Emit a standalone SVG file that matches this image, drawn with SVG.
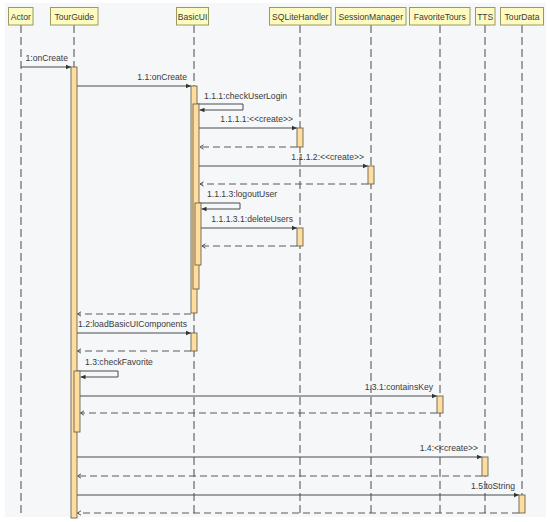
<svg xmlns="http://www.w3.org/2000/svg" width="550" height="522" viewBox="0 0 550 522">
<defs>
<style>
text{font-family:"Liberation Sans",Arial,sans-serif;font-size:8.6px;fill:#3a3a3a}
.hdr{fill:#fdfbc2;stroke:#9a9a5e;stroke-width:1}
.ll{stroke:#5c5c5c;stroke-width:1.1;stroke-dasharray:8,4;fill:none}
.act{fill:#fedd9e;stroke:#6e6450;stroke-width:0.9}
.msg{stroke:#4a4a4a;stroke-width:1;fill:none;marker-end:url(#fill)}
.ret{stroke:#5a5a5a;stroke-width:1;stroke-dasharray:7,4;fill:none;marker-end:url(#open)}
</style>
<marker id="fill" markerWidth="6" markerHeight="6" refX="5" refY="3" orient="auto" markerUnits="userSpaceOnUse">
<path d="M0,0.8 L5,3 L0,5.2 Z" fill="#333"/>
</marker>
<marker id="open" markerWidth="6" markerHeight="6" refX="4" refY="3" orient="auto" markerUnits="userSpaceOnUse">
<path d="M0.5,0.8 L4,3 L0.5,5.2" fill="none" stroke="#444" stroke-width="0.9"/>
</marker>
</defs>
<rect x="5" y="3" width="541" height="514" fill="#f5f7f9"/>

<g id="lifelines">
<line class="ll" x1="21" y1="25" x2="21" y2="517"/>
<line class="ll" x1="74" y1="25" x2="74" y2="517"/>
<line class="ll" x1="194" y1="25" x2="194" y2="517"/>
<line class="ll" x1="300" y1="25" x2="300" y2="517"/>
<line class="ll" x1="371" y1="25" x2="371" y2="517"/>
<line class="ll" x1="440" y1="25" x2="440" y2="517"/>
<line class="ll" x1="485" y1="25" x2="485" y2="517"/>
<line class="ll" x1="522" y1="25" x2="522" y2="517"/>
</g>

<g id="connectors">
<line class="msg" x1="21" y1="67" x2="71" y2="67"/>
<line class="msg" x1="77" y1="86" x2="191" y2="86"/>
<polyline class="msg" points="197,104 243,104 243,110 199.5,110"/>
<line class="msg" x1="199" y1="128" x2="297" y2="128"/>
<line class="ret" x1="297" y1="147" x2="200" y2="147"/>
<line class="msg" x1="199" y1="166" x2="368" y2="166"/>
<line class="ret" x1="368" y1="184" x2="200" y2="184"/>
<polyline class="msg" points="199,203 240,203 240,209 201.5,209"/>
<line class="msg" x1="201" y1="228" x2="297" y2="228"/>
<line class="ret" x1="297" y1="246" x2="202" y2="246"/>
<line class="ret" x1="191" y1="314" x2="77.5" y2="314"/>
<line class="msg" x1="77" y1="333" x2="191" y2="333"/>
<line class="ret" x1="191" y1="351" x2="77.5" y2="351"/>
<polyline class="msg" points="77,371 118,371 118,377 80.5,377"/>
<line class="msg" x1="80" y1="396" x2="437" y2="396"/>
<line class="ret" x1="437" y1="413" x2="80.5" y2="413"/>
<line class="msg" x1="77" y1="457" x2="482" y2="457"/>
<line class="ret" x1="482" y1="476" x2="77.5" y2="476"/>
<line class="msg" x1="77" y1="495" x2="519" y2="495"/>
<line class="ret" x1="519" y1="513" x2="77.5" y2="513"/>
</g>

<g id="labels">
<text x="68" y="61" text-anchor="end">1:onCreate</text>
<text x="187" y="80" text-anchor="end">1.1:onCreate</text>
<text x="204" y="99">1.1.1:checkUserLogin</text>
<text x="293" y="122" text-anchor="end">1.1.1.1:&lt;&lt;create&gt;&gt;</text>
<text x="364" y="160" text-anchor="end">1.1.1.2:&lt;&lt;create&gt;&gt;</text>
<text x="207" y="197">1.1.1.3:logoutUser</text>
<text x="293" y="222" text-anchor="end">1.1.1.3.1:deleteUsers</text>
<text x="187" y="327" text-anchor="end">1.2:loadBasicUIComponents</text>
<text x="85" y="365">1.3:checkFavorite</text>
<text x="433" y="390" text-anchor="end">1.3.1:containsKey</text>
<text x="478" y="451" text-anchor="end">1.4:&lt;&lt;create&gt;&gt;</text>
<text x="515" y="489" text-anchor="end">1.5:toString</text>
</g>

<g id="Actor">
<rect class="hdr" x="8.5" y="7.5" width="24.5" height="17.5"/>
<text x="20.75" y="19.5" text-anchor="middle">Actor</text>
</g>
<g id="TourGuide">
<rect class="hdr" x="50.5" y="7.5" width="47.5" height="17.5"/>
<text x="74.25" y="19.5" text-anchor="middle">TourGuide</text>
<rect class="act" x="71" y="67" width="6" height="451"/>
<rect class="act" x="74" y="371" width="6" height="61"/>
</g>
<g id="BasicUI">
<rect class="hdr" x="176.5" y="7.5" width="32" height="17.5"/>
<text x="192.5" y="19.5" text-anchor="middle">BasicUI</text>
<rect class="act" x="191" y="86" width="6" height="227"/>
<rect class="act" x="193" y="104" width="6" height="185"/>
<rect class="act" x="195" y="203" width="6" height="62"/>
<rect class="act" x="191" y="333" width="6" height="18"/>
</g>
<g id="SQLiteHandler">
<rect class="hdr" x="269.5" y="7.5" width="61.5" height="17.5"/>
<text x="300.25" y="19.5" text-anchor="middle">SQLiteHandler</text>
<rect class="act" x="297" y="128" width="6" height="19"/>
<rect class="act" x="297" y="228" width="6" height="18"/>
</g>
<g id="SessionManager">
<rect class="hdr" x="335.5" y="7.5" width="70.5" height="17.5"/>
<text x="370.75" y="19.5" text-anchor="middle">SessionManager</text>
<rect class="act" x="368" y="166" width="6" height="18"/>
</g>
<g id="FavoriteTours">
<rect class="hdr" x="409.5" y="7.5" width="60.5" height="17.5"/>
<text x="439.75" y="19.5" text-anchor="middle">FavoriteTours</text>
<rect class="act" x="437" y="396" width="6" height="17"/>
</g>
<g id="TTS">
<rect class="hdr" x="475.5" y="7.5" width="19.5" height="17.5"/>
<text x="485.25" y="19.5" text-anchor="middle">TTS</text>
<rect class="act" x="482" y="457" width="6" height="19"/>
</g>
<g id="TourData">
<rect class="hdr" x="500.5" y="7.5" width="43" height="17.5"/>
<text x="522" y="19.5" text-anchor="middle">TourData</text>
<rect class="act" x="519" y="495" width="6" height="18"/>
</g>
</svg>
